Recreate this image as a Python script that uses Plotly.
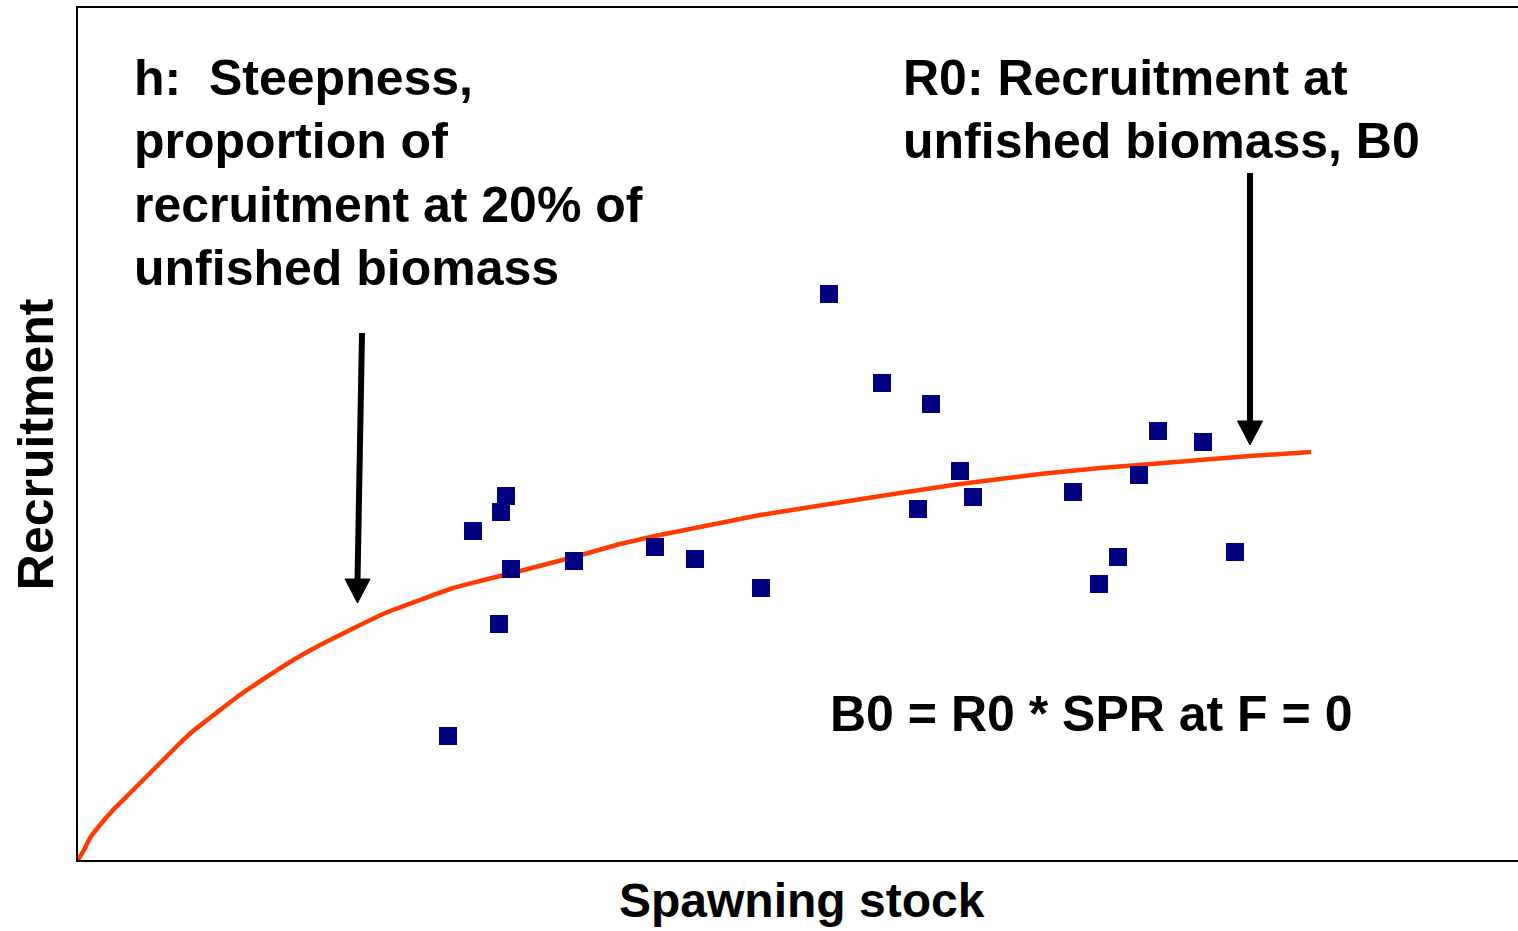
import plotly.graph_objects as go

# Stock-recruitment observations (arbitrary units)
obs_stock = [370, 395, 423, 428, 433, 421, 496, 577, 617, 683, 751, 804, 853, 840,
             882, 895, 995, 1021, 1040, 1061, 1080, 1125, 1157]
obs_recruit = [124, 329, 348, 364, 291, 236, 299, 313, 301, 272, 566, 477, 456, 351,
               389, 363, 368, 276, 303, 385, 429, 418, 308]

# Fitted stock-recruitment curve
curve_stock = [0, 6, 12, 22, 35, 50, 67, 82, 100, 115, 137, 159, 184, 212, 242, 272, 307,
               342, 375, 402, 442, 496, 542, 577, 622, 682, 752, 822, 882, 962, 1022,
               1061, 1122, 1172, 1233]
curve_recruit = [0, 10, 22, 35, 50, 65, 82, 97, 115, 129, 146, 163, 180, 198, 215, 230, 247,
                 260, 272, 279, 289, 303, 316, 324, 333, 345, 356, 367, 376, 386, 392,
                 395, 400, 404, 408]

x_title = "Spawning stock"
y_title = "Recruitment"
h_lines = ["h:\u00a0 Steepness,", "proportion of", "recruitment at 20% of", "unfished biomass"]
r0_lines = ["R0: Recruitment at", "unfished biomass, B0"]
b0_text = "B0 = R0 * SPR at F = 0"

FONT = "Liberation Sans, Arial, sans-serif"
FS = 50

fig = go.Figure()
fig.add_trace(go.Scatter(x=curve_stock, y=curve_recruit, mode="lines",
                         line=dict(color="#FF3C00", width=4.5, shape="spline", smoothing=0.3),
                         hoverinfo="skip", showlegend=False))
fig.add_trace(go.Scatter(x=obs_stock, y=obs_recruit, mode="markers",
                         marker=dict(symbol="square", size=18, color="#000080"),
                         showlegend=False))

ann = []
for i, t in enumerate(h_lines):
    ann.append(dict(x=54, y=782 - i * 63.3, text=t, xanchor="left", yanchor="middle",
                    xref="x", yref="y"))
for i, t in enumerate(r0_lines):
    ann.append(dict(x=823, y=782 - i * 63.3, text=t, xanchor="left", yanchor="middle",
                    xref="x", yref="y"))
ann.append(dict(x=750, y=146, text=b0_text, xanchor="left", yanchor="middle",
                xref="x", yref="y"))
ann.append(dict(x=0.5028, y=0, yshift=-40, text=x_title, xanchor="center", yanchor="middle",
                xref="paper", yref="paper", font_size=48))
ann.append(dict(x=0, xshift=-42, y=0.488, text=y_title, xanchor="center", yanchor="middle",
                textangle=-90, xref="paper", yref="paper", font_size=FS))
for a in ann:
    size = a.pop("font_size", FS)
    a.update(showarrow=False, font=dict(family=FONT, size=size, color="black", weight="bold"))

# Arrows (shaft + triangular head)
def arrow(x0, y0, x1, y1, hw=12.5, hl=24):
    return [dict(type="line", x0=x0, y0=y0, x1=x1, y1=y1 + hl - 2,
                 line=dict(color="black", width=6), xref="x", yref="y"),
            dict(type="path", path=f"M{x1},{y1} L{x1 - hw},{y1 + hl} L{x1 + hw},{y1 + hl} Z",
                 fillcolor="black", line=dict(color="black", width=1), xref="x", yref="y")]

shapes = arrow(284, 527, 279.5, 257) + arrow(1172, 687, 1172, 415)

fig.update_layout(
    width=1518, height=931,
    margin=dict(l=78, r=0, t=8, b=71),
    paper_bgcolor="white", plot_bgcolor="white",
    xaxis=dict(range=[0, 1440], showgrid=False, zeroline=False, showticklabels=False,
               ticks="", showline=True, linecolor="black", linewidth=2, mirror=True),
    yaxis=dict(range=[0, 852], showgrid=False, zeroline=False, showticklabels=False,
               ticks="", showline=True, linecolor="black", linewidth=2, mirror=False),
    annotations=ann, shapes=shapes,
)

fig.write_html("out.html", config={"displayModeBar": False},
               post_script="document.body.style.margin='0';document.body.style.overflow='hidden';")
